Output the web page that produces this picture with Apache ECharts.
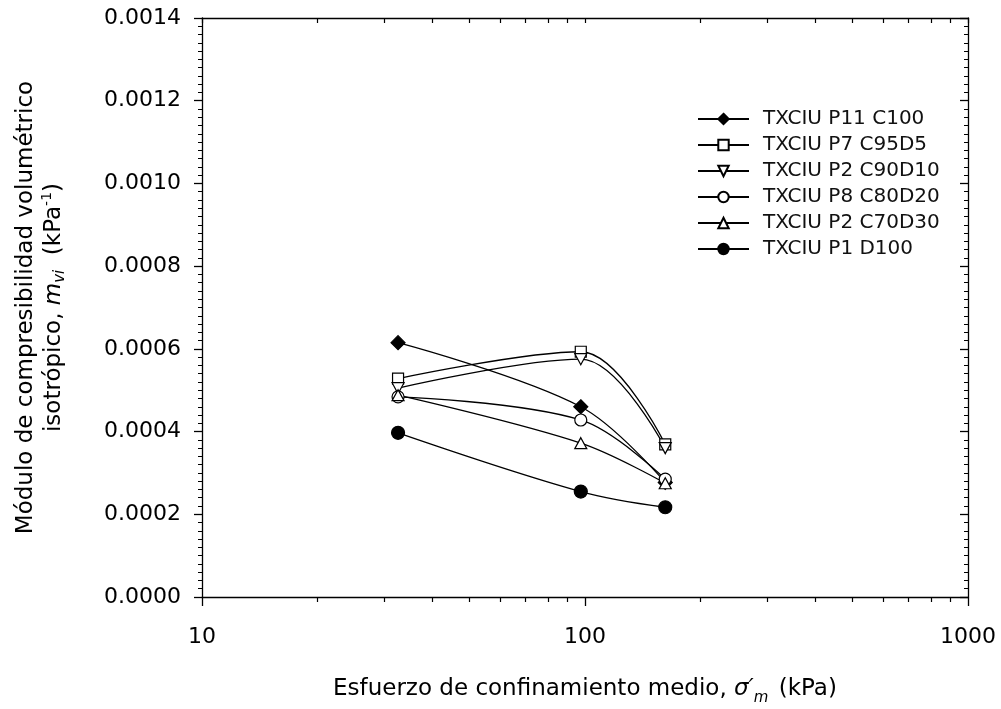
<!DOCTYPE html>
<html>
<head>
<meta charset="utf-8">
<script src="https://cdn.jsdelivr.net/npm/echarts@6/dist/echarts.min.js"></script>
<style>
  html, body { margin: 0; padding: 0; background: #fff; }
  #chart { width: 1001px; height: 709px; }
</style>
</head>
<body>
<div id="chart"></div>
<script>
// confining stress (kPa), one triple per test
const stressP11 = [32.5, 97.5, 162]
const stressOthers = [32.5, 97.5, 162]

const seriesNames = ['TXCIU P11 C100', 'TXCIU P7 C95D5', 'TXCIU P2 C90D10', 'TXCIU P8 C80D20', 'TXCIU P2 C70D30', 'TXCIU P1 D100']
const mviP11C100 = [0.000615, 0.000460, 0.000277]
const mviP7C95D5 = [0.000528, 0.000593, 0.000369]
const mviP2C90D10 = [0.000505, 0.000575, 0.000360]
const mviP8C80D20 = [0.000484, 0.000428, 0.000285]
const mviP2C70D30 = [0.000488, 0.000372, 0.000275]
const mviP1D100 = [0.000397, 0.000255, 0.000217]

const xMajorTicks = [10, 100, 1000]
const xMinorTicks = [20, 30, 40, 50, 60, 70, 80, 90, 200, 300, 400, 500, 600, 700, 800, 900]

const font = 'DejaVu Sans'
const downTri = 'path://M0,0 L10,0 L5,9 Z'

function pairs (xs, ys) {
  return xs.map((x, i) => [x, ys[i]])
}

const dom = document.getElementById('chart')
const chart = echarts.init(dom)

function mkSeries (name, ys, symbol, size, filled) {
  return {
    name: name,
    type: 'line',
    smooth: 0.35,
    xAxisIndex: 0,
    yAxisIndex: 0,
    symbol: symbol,
    symbolSize: size,
    showAllSymbol: true,
    lineStyle: { color: '#000', width: 1.3 },
    itemStyle: { color: filled ? '#000' : '#fff', borderColor: '#000', borderWidth: 1.2 },
    emphasis: { disabled: true },
    data: pairs(stressOthers, ys),
    z: 3
  }
}

const option = {
  animation: false,
  backgroundColor: '#fff',
  textStyle: { fontFamily: font, color: '#000' },
  grid: { left: 202, right: 33, top: 18, bottom: 112, outerBoundsMode: 'none', containLabel: false },
  legend: {
    orient: 'vertical',
    left: 692,
    top: 103,
    itemWidth: 51,
    itemHeight: 13,
    itemGap: 4,
    data: seriesNames,
    textStyle: { fontFamily: font, fontSize: 20, color: '#111', lineHeight: 22, padding: [0, 0, 0, 9] }
  },
  xAxis: [
    {
      type: 'log', logBase: 10, min: 10, max: 1000, position: 'bottom',
      name: '{n|Esfuerzo de confinamiento medio, }{i|σ′}{s|m}{n| (kPa)}',
      nameLocation: 'middle', nameGap: 75,
      nameTextStyle: {
        rich: {
          n: { fontFamily: font, fontSize: 23, color: '#000', lineHeight: 34, verticalAlign: 'middle' },
          i: { fontFamily: font, fontSize: 23, fontStyle: 'italic', color: '#000', lineHeight: 34, verticalAlign: 'middle' },
          s: { fontFamily: font, fontSize: 15, fontStyle: 'italic', color: '#000', lineHeight: 34, verticalAlign: 'bottom', padding: [0, 3, 0, 0] }
        }
      },
      axisLine: { lineStyle: { color: '#000', width: 1.3 } },
      axisTick: { inside: false, length: 9, customValues: xMajorTicks, lineStyle: { color: '#000', width: 1.3 } },
      axisLabel: { customValues: xMajorTicks, margin: 29, fontSize: 22, color: '#000', fontFamily: font, formatter: v => String(v) },
      splitLine: { show: false }
    },
    {
      type: 'log', logBase: 10, min: 10, max: 1000, position: 'bottom',
      axisLine: { show: false },
      axisTick: { inside: false, length: 5, customValues: xMinorTicks, lineStyle: { color: '#000', width: 1.2 } },
      axisLabel: { show: false },
      splitLine: { show: false }
    },
    {
      type: 'log', logBase: 10, min: 10, max: 1000, position: 'top',
      axisLine: { lineStyle: { color: '#000', width: 1.3 } },
      axisTick: { inside: true, length: 5, customValues: xMinorTicks.concat(xMajorTicks), lineStyle: { color: '#000', width: 1.2 } },
      axisLabel: { show: false },
      splitLine: { show: false }
    }
  ],
  yAxis: [
    {
      type: 'value', min: 0, max: 0.0014, interval: 0.0002, position: 'left',
      name: '{n|Módulo de compresibilidad volumétrico}\n{n|isotrópico, }{i|m}{s|vi}{n|  (kPa}{p|-1}{n|)}',
      nameLocation: 'middle', nameRotate: 90, nameGap: 134,
      nameTextStyle: {
        align: 'center',
        rich: {
          n: { fontFamily: font, fontSize: 23, color: '#000', lineHeight: 28, verticalAlign: 'middle', align: 'center' },
          i: { fontFamily: font, fontSize: 23, fontStyle: 'italic', color: '#000', lineHeight: 28, verticalAlign: 'middle' },
          s: { fontFamily: font, fontSize: 15, fontStyle: 'italic', color: '#000', lineHeight: 28, verticalAlign: 'bottom' },
          p: { fontFamily: font, fontSize: 14, color: '#000', lineHeight: 28, verticalAlign: 'top' }
        }
      },
      axisLine: { show: true, lineStyle: { color: '#000', width: 1.3 } },
      axisTick: { show: true, inside: false, length: 8, lineStyle: { color: '#000', width: 1.3 } },
      minorTick: { show: true, splitNumber: 10, length: 4, lineStyle: { color: '#000', width: 1 } },
      axisLabel: { margin: 21, fontSize: 22, color: '#000', fontFamily: font, formatter: v => v.toFixed(4) },
      splitLine: { show: false }
    },
    {
      type: 'value', min: 0, max: 0.0014, interval: 0.0002, position: 'right',
      axisLine: { show: true, lineStyle: { color: '#000', width: 1.3 } },
      axisTick: { show: true, inside: true, length: 8, lineStyle: { color: '#000', width: 1.3 } },
      minorTick: { show: true, splitNumber: 10, length: 4, lineStyle: { color: '#000', width: 1 } },
      axisLabel: { show: false },
      splitLine: { show: false }
    }
  ],
  series: [
    mkSeries(seriesNames[0], mviP11C100, 'diamond', 14, true),
    mkSeries(seriesNames[1], mviP7C95D5, 'rect', 11, false),
    mkSeries(seriesNames[2], mviP2C90D10, downTri, [12, 11], false),
    mkSeries(seriesNames[3], mviP8C80D20, 'circle', 12, false),
    mkSeries(seriesNames[4], mviP2C70D30, 'triangle', [12, 11], false),
    mkSeries(seriesNames[5], mviP1D100, 'circle', 13, true)
  ]
}
option.series[0].data = pairs(stressP11, mviP11C100)

chart.setOption(option)
window.addEventListener('resize', () => chart.resize())
</script>
</body>
</html>
